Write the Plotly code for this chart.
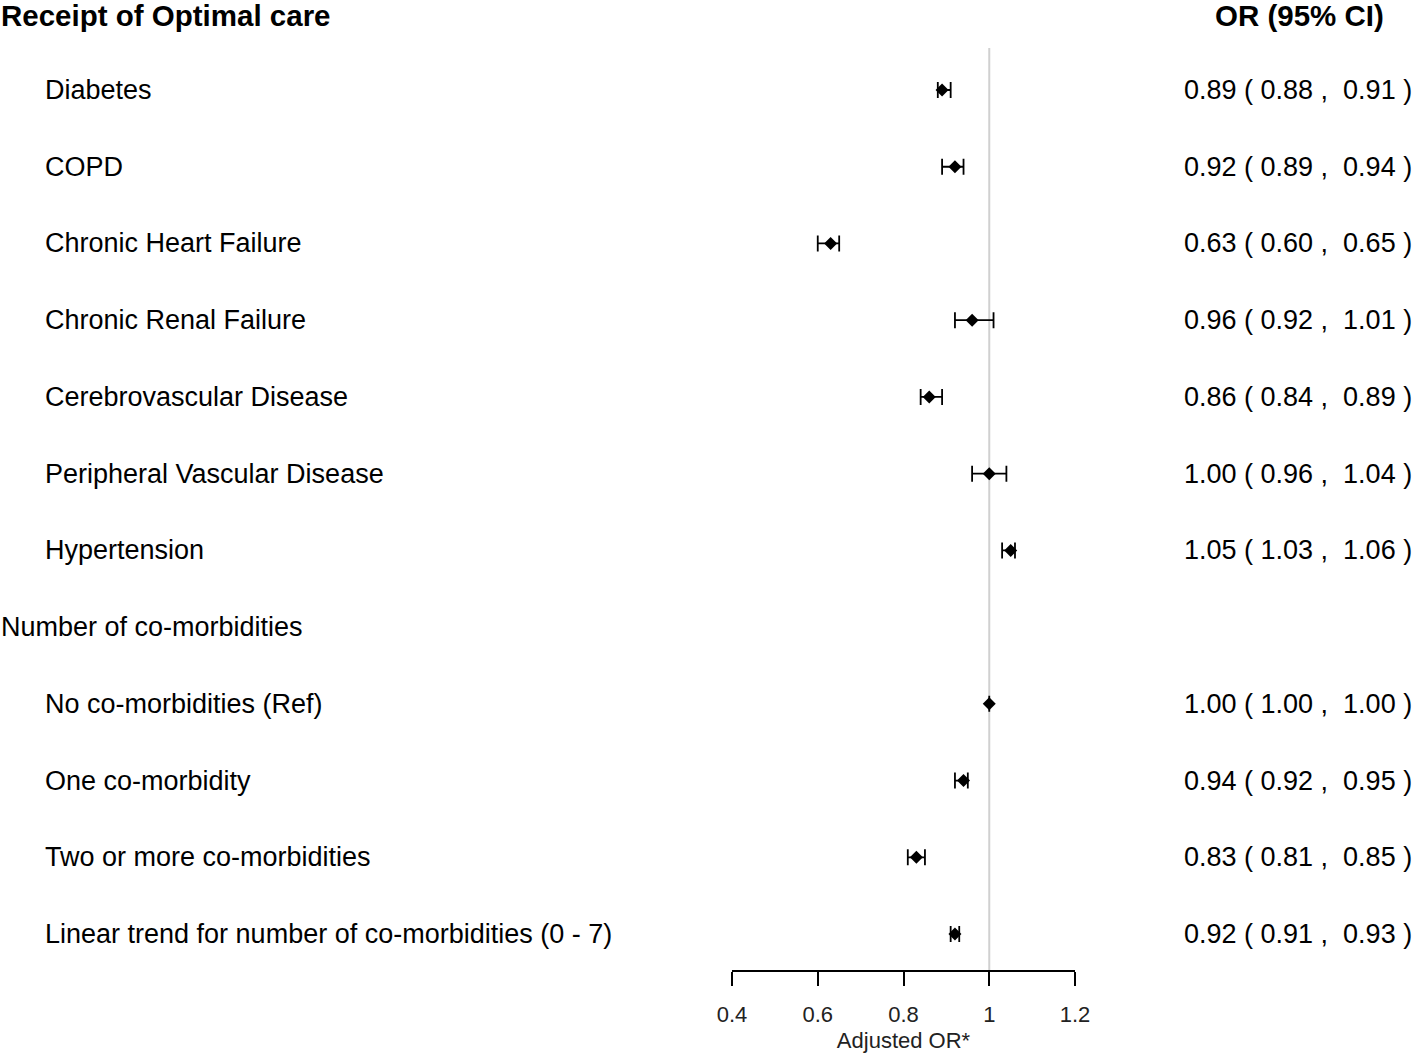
import plotly.graph_objects as go

W, H = 1418, 1057

labels = ["Diabetes", "COPD", "Chronic Heart Failure", "Chronic Renal Failure",
          "Cerebrovascular Disease", "Peripheral Vascular Disease", "Hypertension",
          "Number of co-morbidities", "No co-morbidities (Ref)", "One co-morbidity",
          "Two or more co-morbidities", "Linear trend for number of co-morbidities (0 - 7)"]
is_header = [False, False, False, False, False, False, False, True, False, False, False, False]
or_est = [0.89, 0.92, 0.63, 0.96, 0.86, 1.00, 1.05, None, 1.00, 0.94, 0.83, 0.92]
ci_lo = [0.88, 0.89, 0.60, 0.92, 0.84, 0.96, 1.03, None, 1.00, 0.92, 0.81, 0.91]
ci_hi = [0.91, 0.94, 0.65, 1.01, 0.89, 1.04, 1.06, None, 1.00, 0.95, 0.85, 0.93]
tick_vals = [0.4, 0.6, 0.8, 1.0, 1.2]
tick_text = ["0.4", "0.6", "0.8", "1", "1.2"]
title_left = "Receipt of Optimal care"
title_right = "OR (95% CI)"
x_title = "Adjusted OR*"

FONT = "Liberation Sans, Arial, sans-serif"
rows = list(range(len(labels)))

err_plus = []
err_minus = []
for e, l, h in zip(or_est, ci_lo, ci_hi):
    if e is None or (h - l) == 0:
        err_plus.append(None)
        err_minus.append(None)
    else:
        err_plus.append(h - e)
        err_minus.append(e - l)

fig = go.Figure()
fig.add_trace(go.Scatter(
    x=or_est, y=rows, mode="markers",
    marker=dict(symbol="diamond", size=10, color="black"),
    error_x=dict(type="data", symmetric=False, array=err_plus, arrayminus=err_minus,
                 color="black", thickness=1.8, width=8),
    showlegend=False, hoverinfo="skip",
))

# y mapping: row i at pixel 90 + i*76.73; plot area bottom at pixel 970
step = 76.73
y_bottom_px = 970
y_top = (0 - 90) / step
y_bot = (y_bottom_px - 90) / step

ann = []
for i, (lab, hdr) in enumerate(zip(labels, is_header)):
    ann.append(dict(x=(0 if hdr else 44) / W, y=i, xref="paper", yref="y", text=lab,
                    showarrow=False, xanchor="left", yanchor="middle", borderpad=0,
                    font=dict(family=FONT, size=27, color="black")))
    if or_est[i] is not None:
        s = f"{or_est[i]:.2f} ( {ci_lo[i]:.2f} ,  {ci_hi[i]:.2f} )".replace(" ", "\u00a0")
        ann.append(dict(x=1183 / W, y=i, xref="paper", yref="y", text=s,
                        showarrow=False, xanchor="left", yanchor="middle", borderpad=0,
                        font=dict(family=FONT, size=27, color="black")))
ann.append(dict(x=0, y=(15 - 90) / step, xref="paper", yref="y", text=f"<b>{title_left}</b>",
                showarrow=False, xanchor="left", yanchor="middle", borderpad=0,
                font=dict(family=FONT, size=29.5, color="black")))
ann.append(dict(x=1385 / W, y=(15 - 90) / step, xref="paper", yref="y", text=f"<b>{title_right}</b>",
                showarrow=False, xanchor="right", yanchor="middle", borderpad=0,
                font=dict(family=FONT, size=29.5, color="black")))

fig.update_layout(
    width=W, height=H,
    margin=dict(l=0, r=0, t=0, b=0, autoexpand=False),
    paper_bgcolor="white", plot_bgcolor="white",
    annotations=ann,
    shapes=[dict(type="line", xref="x", yref="paper", x0=1, x1=1,
                 y0=1 - y_bottom_px / H, y1=1 - 48 / H,
                 line=dict(color="#d0d0d0", width=2), layer="below")],
    xaxis=dict(domain=[732 / W, 1075 / W], range=[0.4, 1.2], showgrid=False, zeroline=False,
               showline=True, linecolor="black", linewidth=1.5,
               ticks="outside", ticklen=14, tickwidth=1.5, tickcolor="black",
               tickvals=tick_vals, ticktext=tick_text, ticklabelstandoff=10,
               tickfont=dict(family=FONT, size=22, color="#222"),
               title=dict(text=x_title, font=dict(family=FONT, size=22, color="#222"), standoff=6)),
    yaxis=dict(domain=[1 - y_bottom_px / H, 1], range=[y_bot, y_top], visible=False,
               showgrid=False, zeroline=False),
)

fig.write_html("out.html", config={"displayModeBar": False},
               post_script="document.body.style.margin='0';document.body.style.overflow='hidden';")
